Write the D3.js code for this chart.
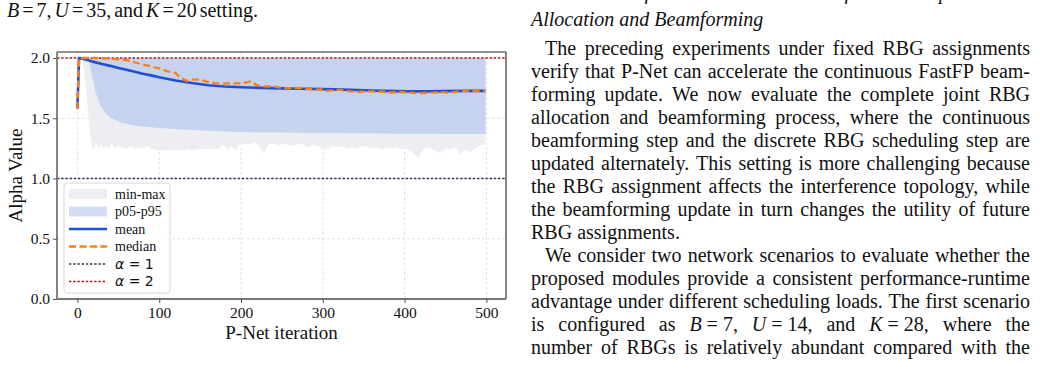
<!DOCTYPE html>
<html>
<head>
<meta charset="utf-8">
<script src="https://cdn.jsdelivr.net/npm/d3@7"></script>
<style>
  body { margin: 0; background: #fff; }
  svg { display: block; }
  text { white-space: pre; }
</style>
</head>
<body>
<div id="wrapper"></div>
<script>
// ---- data ----
const xTicks = [0, 100, 200, 300, 400, 500];
const yTicks = [0, 0.5, 1.0, 1.5, 2.0];

// mean alpha over iterations
const meanIter = [0, 2, 5, 10, 20, 30, 40, 50, 60, 70, 80, 90, 100, 120, 140, 160, 180, 200, 225, 250, 275, 300, 325, 350, 375, 400, 425, 450, 475, 499];
const meanVal  = [1.58, 2.0, 1.997, 1.988, 1.968, 1.95, 1.935, 1.917, 1.902, 1.886, 1.87, 1.856, 1.84, 1.814, 1.792, 1.774, 1.764, 1.758, 1.752, 1.748, 1.745, 1.742, 1.738, 1.732, 1.727, 1.723, 1.723, 1.725, 1.727, 1.727];

// median alpha
const medIter = [0, 2, 10, 20, 30, 40, 50, 60, 70, 80, 90, 100, 110, 120, 126, 134, 140, 150, 160, 170, 180, 190, 200, 208, 212, 218, 224, 232, 241, 250, 260, 270, 282, 290, 298, 306, 314, 322, 332, 343, 353, 363, 373, 384, 394, 404, 412, 420, 430, 445, 455, 466, 478, 488, 499];
const medVal  = [1.58, 2.0, 2.0, 2.0, 1.998, 1.994, 1.99, 1.982, 1.965, 1.945, 1.93, 1.915, 1.89, 1.875, 1.835, 1.81, 1.82, 1.82, 1.8, 1.79, 1.788, 1.79, 1.79, 1.8, 1.806, 1.78, 1.765, 1.765, 1.762, 1.752, 1.75, 1.752, 1.745, 1.738, 1.74, 1.727, 1.735, 1.735, 1.725, 1.718, 1.724, 1.722, 1.72, 1.714, 1.718, 1.714, 1.71, 1.708, 1.712, 1.717, 1.712, 1.722, 1.73, 1.726, 1.727];

// p05 lower edge (p95 upper edge sits at 2.0)
const p05Iter = [0, 2, 12, 14, 18, 22, 28, 35, 41, 55, 69, 85, 100, 125, 150, 180, 212, 250, 300, 350, 400, 450, 499];
const p05Val  = [1.5, 2.0, 2.0, 1.98, 1.85, 1.72, 1.61, 1.54, 1.5, 1.46, 1.44, 1.428, 1.42, 1.408, 1.4, 1.39, 1.383, 1.381, 1.378, 1.375, 1.372, 1.37, 1.37];
const p95Val  = 2.0;

// min lower edge (max upper edge sits at 2.0)
const minIter = [0, 2, 5, 8, 10, 12, 14, 16, 18, 20, 23, 26, 29, 32, 35, 38, 42, 46, 50, 55, 60, 65, 70, 75, 80, 85, 90, 95, 100, 105, 110, 115, 120, 125, 130, 135, 140, 145, 150, 155, 160, 165, 170, 175, 179, 183, 188, 193, 198, 204, 210, 216, 222, 228, 233, 240, 246, 252, 258, 264, 270, 276, 282, 288, 294, 300, 306, 312, 318, 324, 330, 336, 342, 348, 354, 360, 366, 372, 378, 384, 390, 396, 402, 408, 413, 417, 421, 426, 432, 438, 444, 450, 456, 462, 468, 474, 480, 486, 492, 499];
const minVal  = [1.43, 2.0, 2.0, 1.9, 1.78, 1.62, 1.48, 1.34, 1.27, 1.24, 1.29, 1.25, 1.28, 1.24, 1.27, 1.25, 1.29, 1.25, 1.27, 1.26, 1.25, 1.27, 1.25, 1.26, 1.25, 1.27, 1.25, 1.24, 1.23, 1.235, 1.23, 1.24, 1.235, 1.24, 1.23, 1.245, 1.235, 1.24, 1.245, 1.24, 1.25, 1.24, 1.245, 1.26, 1.28, 1.24, 1.27, 1.23, 1.28, 1.29, 1.28, 1.3, 1.27, 1.21, 1.28, 1.29, 1.27, 1.29, 1.28, 1.27, 1.29, 1.28, 1.26, 1.28, 1.27, 1.24, 1.245, 1.27, 1.26, 1.27, 1.25, 1.26, 1.25, 1.27, 1.26, 1.25, 1.26, 1.24, 1.26, 1.25, 1.26, 1.24, 1.25, 1.23, 1.19, 1.175, 1.22, 1.26, 1.25, 1.23, 1.21, 1.25, 1.24, 1.26, 1.2, 1.24, 1.22, 1.25, 1.27, 1.3];
const maxVal  = 2.0;

const legendLabels = ['min-max', 'p05-p95', 'mean', 'median', 'α = 1', 'α = 2'];

// surrounding page text
const captionTail = '*B* = 7, *U* = 35, and *K* = 20 setting.';
const headingLines = ['C. Joint Performance Evaluation of the Complete RBG', 'Allocation and Beamforming'];
const para1 = [
  'The preceding experiments under fixed RBG assignments',
  'verify that P-Net can accelerate the continuous FastFP beam-',
  'forming update. We now evaluate the complete joint RBG',
  'allocation and beamforming process, where the continuous',
  'beamforming step and the discrete RBG scheduling step are',
  'updated alternately. This setting is more challenging because',
  'the RBG assignment affects the interference topology, while',
  'the beamforming update in turn changes the utility of future',
  'RBG assignments.'
];
const para2 = [
  'We consider two network scenarios to evaluate whether the',
  'proposed modules provide a consistent performance-runtime',
  'advantage under different scheduling loads. The first scenario',
  'is configured as *B*\u00a0=\u00a07, *U*\u00a0=\u00a014, and *K*\u00a0=\u00a028, where the',
  'number of RBGs is relatively abundant compared with the'
];

// ---- drawing ----
const W = 1040, H = 371;
const serif = "'Liberation Serif', 'Times New Roman', serif";
const svg = d3.select('#wrapper').append('svg').attr('width', W).attr('height', H);

const plot = {left: 57, right: 506, top: 52, bottom: 299};
const x = d3.scaleLinear().domain([-24.95, 523.95]).range([plot.left, plot.right]);
const y = d3.scaleLinear().domain([0, 2.05]).range([plot.bottom, plot.top]);

const chart = svg.append('g');

// grid
chart.append('g').selectAll('line').data(xTicks).join('line')
  .attr('x1', d => x(d)).attr('x2', d => x(d))
  .attr('y1', plot.top).attr('y2', plot.bottom)
  .attr('stroke', '#dcdcdc').attr('stroke-width', 0.8).attr('stroke-dasharray', '3,2');
chart.append('g').selectAll('line').data(yTicks).join('line')
  .attr('x1', plot.left).attr('x2', plot.right)
  .attr('y1', d => y(d)).attr('y2', d => y(d))
  .attr('stroke', '#dcdcdc').attr('stroke-width', 0.8).attr('stroke-dasharray', '3,2');

// bands
const minArea = d3.area().x((d, i) => x(minIter[i])).y0(d => y(d)).y1(() => y(maxVal));
chart.append('path').datum(minVal).attr('d', minArea).attr('fill', '#eceef1');
const p05Area = d3.area().x((d, i) => x(p05Iter[i])).y0(d => y(d)).y1(() => y(p95Val));
chart.append('path').datum(p05Val).attr('d', p05Area).attr('fill', '#c6d3ef');

// reference lines
chart.append('line').attr('x1', plot.left).attr('x2', plot.right)
  .attr('y1', y(1)).attr('y2', y(1))
  .attr('stroke', '#2f3a56').attr('stroke-width', 1.4).attr('stroke-dasharray', '2.4,1.8');
chart.append('line').attr('x1', plot.left).attr('x2', plot.right)
  .attr('y1', y(2)).attr('y2', y(2))
  .attr('stroke', '#b3161f').attr('stroke-width', 1.5).attr('stroke-dasharray', '2.4,1.8');

// mean and median
const meanLine = d3.line().x((d, i) => x(meanIter[i])).y(d => y(d));
chart.append('path').datum(meanVal).attr('d', meanLine)
  .attr('fill', 'none').attr('stroke', '#1f4fd8').attr('stroke-width', 2.6).attr('stroke-linejoin', 'round');
const medLine = d3.line().x((d, i) => x(medIter[i])).y(d => y(d));
chart.append('path').datum(medVal).attr('d', medLine)
  .attr('fill', 'none').attr('stroke', '#ff7f0e').attr('stroke-width', 2.3).attr('stroke-dasharray', '7,3.5');

// spines
chart.append('line').attr('x1', plot.left).attr('x2', plot.right).attr('y1', plot.top).attr('y2', plot.top)
  .attr('stroke', '#222').attr('stroke-width', 1.2);
chart.append('line').attr('x1', plot.left).attr('x2', plot.left).attr('y1', plot.top).attr('y2', plot.bottom)
  .attr('stroke', '#777').attr('stroke-width', 1.8);
chart.append('line').attr('x1', plot.right).attr('x2', plot.right).attr('y1', plot.top).attr('y2', plot.bottom)
  .attr('stroke', '#777').attr('stroke-width', 1.8);
chart.append('line').attr('x1', plot.left).attr('x2', plot.right).attr('y1', plot.bottom).attr('y2', plot.bottom)
  .attr('stroke', '#777').attr('stroke-width', 1.8);

// axes
const xAxis = chart.append('g').attr('transform', `translate(0,${plot.bottom})`)
  .call(d3.axisBottom(x).tickValues(xTicks).tickSize(4).tickPadding(4));
const yAxis = chart.append('g').attr('transform', `translate(${plot.left},0)`)
  .call(d3.axisLeft(y).tickValues(yTicks).tickFormat(d3.format('.1f')).tickSize(4).tickPadding(3));
[xAxis, yAxis].forEach(a => {
  a.select('.domain').remove();
  a.selectAll('.tick line').attr('stroke', '#555').attr('stroke-width', 1);
  a.selectAll('.tick text').attr('fill', '#111')
    .style('font-family', serif).style('font-size', '15.5px');
});

chart.append('text').attr('x', (plot.left + plot.right) / 2).attr('y', 339)
  .attr('text-anchor', 'middle').style('font-family', serif).style('font-size', '19px')
  .attr('fill', '#111').text('P-Net iteration');
chart.append('text').attr('transform', `translate(22,${(plot.top + plot.bottom) / 2}) rotate(-90)`)
  .attr('text-anchor', 'middle').style('font-family', serif).style('font-size', '19px')
  .attr('fill', '#111').text('Alpha Value');

// legend
const lg = chart.append('g');
lg.append('rect').attr('x', 64).attr('y', 183).attr('width', 106).attr('height', 110).attr('rx', 3)
  .attr('fill', '#fff').attr('fill-opacity', 0.85).attr('stroke', '#d4d4d4').attr('stroke-width', 0.9);
const rowY = i => 194 + i * 17.5;
const sw = {x0: 69, x1: 107};
lg.append('rect').attr('x', sw.x0).attr('y', rowY(0) - 5).attr('width', sw.x1 - sw.x0).attr('height', 10).attr('fill', '#eceef1');
lg.append('rect').attr('x', sw.x0).attr('y', rowY(1) - 5).attr('width', sw.x1 - sw.x0).attr('height', 10).attr('fill', '#d3ddf5');
const lineStyles = [
  null, null,
  {stroke: '#1f4fd8', w: 2.6, dash: null},
  {stroke: '#ff7f0e', w: 2.3, dash: '7,3.5'},
  {stroke: '#2f3a56', w: 1.4, dash: '2.4,1.8'},
  {stroke: '#b3161f', w: 1.5, dash: '2.4,1.8'}
];
lineStyles.forEach((s, i) => {
  if (!s) return;
  lg.append('line').attr('x1', sw.x0).attr('x2', sw.x1).attr('y1', rowY(i)).attr('y2', rowY(i))
    .attr('stroke', s.stroke).attr('stroke-width', s.w).attr('stroke-dasharray', s.dash);
});
legendLabels.forEach((t, i) => {
  const tx = lg.append('text').attr('x', 115).attr('y', rowY(i) + 4.5).attr('fill', '#111');
  if (t.startsWith('α')) {
    tx.style('font-family', "'DejaVu Sans', sans-serif").style('font-size', '14px');
    tx.append('tspan').style('font-style', 'italic').text('α');
    tx.append('tspan').text(t.slice(1).replace(/ /g, '\u00a0'));
  } else {
    tx.style('font-family', serif).style('font-size', '14px').text(t);
  }
});

// ---- page text ----
const fs = 20;
const page = svg.append('g').style('font-family', serif).style('font-size', fs + 'px').attr('fill', '#111');

function segments(word) {
  return word.split('*').map((s, i) => ({text: s, italic: i % 2 === 1})).filter(s => s.text.length);
}

function setLine(str, x0, x1, yb, justify, italicAll) {
  const words = str.split(' ');
  const nodes = words.map(w => {
    const t = page.append('text').attr('y', yb);
    segments(w).forEach(s => t.append('tspan').text(s.text)
      .style('font-style', s.italic || italicAll ? 'italic' : null));
    return t;
  });
  const widths = nodes.map(t => t.node().getComputedTextLength());
  const gap = justify && words.length > 1
    ? (x1 - x0 - d3.sum(widths)) / (words.length - 1)
    : fs * 0.25;
  let cx = x0;
  nodes.forEach((t, i) => { t.attr('x', cx); cx += widths[i] + gap; });
}

// left column caption tail (math spacing spread to the caption width)
setLine(captionTail, 7, 258, 17, true, false);

// right column
const colL = 531, colR = 1030, indent = 14, lead = 23;
setLine(headingLines[0], colL, colR, -1, true, true);
setLine(headingLines[1], colL, colR, 26, false, true);
let yb = 55;
para1.forEach((l, i) => {
  setLine(l, colL + (i === 0 ? indent : 0), colR, yb, i < para1.length - 1, false);
  yb += lead;
});
para2.forEach((l, i) => {
  setLine(l, colL + (i === 0 ? indent : 0), colR, yb, true, false);
  yb += lead;
});
</script>
</body>
</html>
